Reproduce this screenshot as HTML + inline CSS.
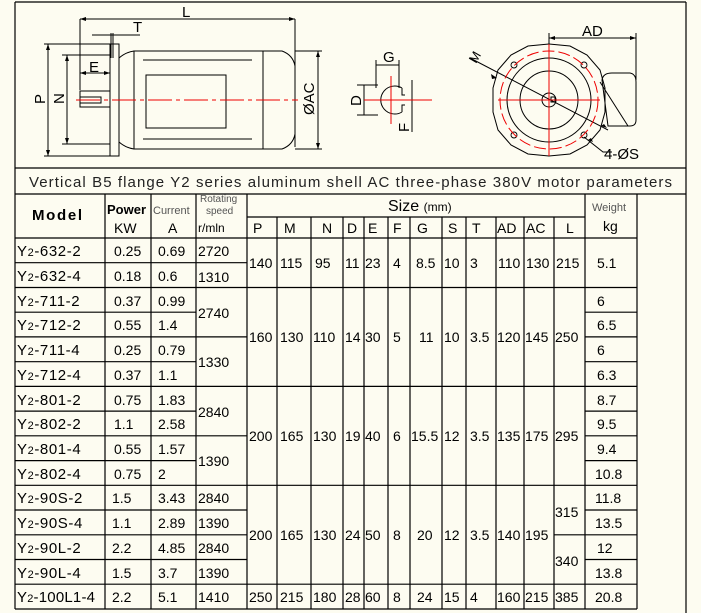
<!DOCTYPE html>
<html><head><meta charset="utf-8"><style>
html,body{margin:0;padding:0;background:#fdfcf1;}
svg{display:block;font-family:"Liberation Sans",sans-serif;}
</style></head><body>
<svg width="701" height="613" viewBox="0 0 701 613" xmlns="http://www.w3.org/2000/svg">
<rect width="701" height="613" fill="#fdfcf1"/>
<g stroke="#000" stroke-width="1.2" fill="none">
<line x1="15" y1="2" x2="686" y2="2"/>
<line x1="15" y1="2" x2="15" y2="609"/>
<line x1="686" y1="2" x2="686" y2="613"/>
<line x1="15" y1="168" x2="686" y2="168"/>
<line x1="15" y1="194" x2="686" y2="194"/>
<path d="M105 194V609M151 194V609M196 194V609M247 194V609M585 194V609M637 194V609"/>
<path d="M277 217V609M311 217V609M343 217V609M364 217V609M388 217V609M410 217V609M442 217V609M466 217V609M496 217V609M524 217V609M554 217V609"/>
<line x1="247" y1="217" x2="585" y2="217"/>
<path d="M15 238H637M15 287.5H637M15 386.4H637M15 485.3H637M15 584.2H637M15 609H637"/>
<path d="M15 262.7H196M15 312.2H196M15 336.9H196M15 361.7H196M15 411.1H196M15 435.8H196M15 460.6H196M15 510H196M15 534.8H196M15 559.5H196"/>
<path d="M196 262.7H247M196 336.9H247M196 435.8H247M196 510H247M196 534.8H247M196 559.5H247"/>
<path d="M554 534.8H585"/>
<path d="M585 312.2H637M585 336.9H637M585 361.7H637M585 411.1H637M585 435.8H637M585 460.6H637M585 510H637M585 534.8H637M585 559.5H637"/>
</g>

<g stroke="#000" stroke-width="1" fill="none">
<path d="M80 19H295M80 19V90M295 19V147"/>
<path d="M92 35H140M111 33V58M113 33V58"/>
<rect x="110" y="44" width="9" height="112"/>
<path d="M48 44V156M44 44H110M44 156H110"/>
<path d="M67 55V144M62 55H110M62 144H110"/>
<path d="M80 73H110"/>
<rect x="80" y="91" width="30" height="16"/>
<path d="M80 97H101V103H80"/>
<rect x="134" y="51" width="129" height="98"/>
<path d="M119 58Q126 52 134 51M119 142Q126 148 134 149"/>
<path d="M263 51H282Q293 55 295 66V134Q293 145 282 149H263"/>
<rect x="146" y="75" width="80" height="53"/>
<path d="M143 60H252M143 139H252"/>
<path d="M295 51H322M295 149H322M318 51V149"/>
<path d="M376 60V88M399 60V88M376 65H399"/>
<path d="M402 88A14 14 0 1 0 402 112M402 88V95H405M402 112V105H405"/>
<path d="M357 85H378M357 115H378M364 85V115"/>
<path d="M412 80V132"/>
<polygon points="549,44 570,46 587,55 600,70 605,88 605,112 600,130 587,145 570,154 549,156 528,154 511,145 498,130 493,112 493,88 498,70 511,55 528,46"/>
<circle cx="549" cy="100" r="42"/>
<circle cx="549" cy="100" r="29"/>
<circle cx="549" cy="100" r="7"/>
<rect x="551" y="97" width="4" height="5"/>
<path d="M549 38H636M549 33V60M636 33V80"/>
<path d="M602 80Q603 73 612 73H630Q636 74 636 82V120Q636 126 630 126H608Z"/>
<path d="M600 82L628 126"/>
<path d="M470 58L608 130"/>
<path d="M584 137L603 152H612"/>
<g stroke-width="0.9">
<circle cx="514" cy="65" r="3"/><circle cx="584" cy="65" r="3"/><circle cx="514" cy="135" r="3"/><circle cx="584" cy="135" r="3"/>
</g>
</g>
<g fill="#000">
<path d="M80 19l6-2v4zM295 19l-6-2v4zM48 44l-2 6h4zM48 156l-2-6h4zM67 55l-2 6h4zM67 144l-2-6h4zM318 51l-2 6h4zM318 149l-2-6h4zM80 73l6-2v4zM110 73l-6-2v4zM549 38l6-2v4zM636 38l-6-2v4zM497 78l-6-4 1 5zM601 126l6 2-3-4zM588 140l5 2-2-4z"/>
</g>
<g stroke="#e00" stroke-width="1" fill="none">
<line x1="76" y1="100" x2="298" y2="100" stroke-dasharray="24,4,4,4"/>
<path d="M364 100H432M391 76V124"/>
<path d="M498 100H600M549 44V156"/>
<circle cx="549" cy="100" r="49" stroke-dasharray="12,4"/>
</g>
<g font-size="15" fill="#000">
<text x="182" y="17">L</text>
<text x="133" y="32">T</text>
<text x="89" y="72">E</text>
<text transform="translate(45,104) rotate(-90)">P</text>
<text transform="translate(64,104) rotate(-90)">N</text>
<text transform="translate(314,115) rotate(-90)">ØAC</text>
<text x="383" y="62">G</text>
<text transform="translate(361,106) rotate(-90)">D</text>
<text transform="translate(409,132) rotate(-90)">F</text>
<text x="582" y="36">AD</text>
<text transform="translate(476,64) rotate(-60)" font-size="13">M</text>
<text x="604" y="159">4-ØS</text>
</g>

<text x="29" y="187" font-size="15" fill="#222" textLength="643" lengthAdjust="spacing">Vertical B5 flange Y2 series aluminum shell AC three-phase 380V motor parameters</text>

<g fill="#000">
<text x="32" y="220" font-size="15" font-weight="bold" textLength="50">Model</text>
<text x="107" y="214" font-size="13" font-weight="bold">Power</text>
<text x="114" y="233" font-size="14">KW</text>
<text x="153" y="214" font-size="11" fill="#555">Current</text>
<text x="168" y="233" font-size="14">A</text>
<text x="200" y="202" font-size="10" fill="#555">Rotating</text>
<text x="206" y="214" font-size="10" fill="#555">speed</text>
<text x="198" y="232" font-size="12">r/mln</text>
<text x="388" y="211" font-size="16">Size <tspan font-size="12">(mm)</tspan></text>
<text x="592" y="211" font-size="11" fill="#555">Weight</text>
<text x="603" y="231" font-size="14">kg</text>
</g>
<g font-size="14" fill="#000">
<text x="253" y="233">P</text><text x="284" y="233">M</text><text x="322" y="233">N</text><text x="347" y="233">D</text><text x="368" y="233">E</text><text x="393" y="233">F</text><text x="417" y="233">G</text><text x="448" y="233">S</text><text x="472" y="233">T</text><text x="497" y="233">AD</text><text x="526" y="233">AC</text><text x="566" y="233">L</text>
</g>

<g font-size="14" fill="#000">
<g font-size="15" letter-spacing="0.6">
<text x="17" y="256">Y<tspan font-size="11">2</tspan>-632-2</text>
<text x="17" y="281">Y<tspan font-size="11">2</tspan>-632-4</text>
<text x="17" y="306">Y<tspan font-size="11">2</tspan>-711-2</text>
<text x="17" y="330">Y<tspan font-size="11">2</tspan>-712-2</text>
<text x="17" y="355">Y<tspan font-size="11">2</tspan>-711-4</text>
<text x="17" y="380">Y<tspan font-size="11">2</tspan>-712-4</text>
<text x="17" y="405">Y<tspan font-size="11">2</tspan>-801-2</text>
<text x="17" y="429">Y<tspan font-size="11">2</tspan>-802-2</text>
<text x="17" y="454">Y<tspan font-size="11">2</tspan>-801-4</text>
<text x="17" y="479">Y<tspan font-size="11">2</tspan>-802-4</text>
<text x="17" y="503">Y<tspan font-size="11">2</tspan>-90S-2</text>
<text x="17" y="528">Y<tspan font-size="11">2</tspan>-90S-4</text>
<text x="17" y="553">Y<tspan font-size="11">2</tspan>-90L-2</text>
<text x="17" y="578">Y<tspan font-size="11">2</tspan>-90L-4</text>
<text x="17" y="602" letter-spacing="0.2">Y<tspan font-size="11">2</tspan>-100L1-4</text>
</g>
<text x="114" y="256">0.25</text><text x="114" y="281">0.18</text><text x="114" y="306">0.37</text><text x="114" y="330">0.55</text><text x="114" y="355">0.25</text><text x="114" y="380">0.37</text><text x="114" y="405">0.75</text><text x="114" y="429">1.1</text><text x="114" y="454">0.55</text><text x="114" y="479">0.75</text><text x="112" y="503">1.5</text><text x="112" y="528">1.1</text><text x="112" y="553">2.2</text><text x="112" y="578">1.5</text><text x="112" y="602">2.2</text>
<text x="158" y="256">0.69</text><text x="158" y="281">0.6</text><text x="158" y="306">0.99</text><text x="158" y="330">1.4</text><text x="158" y="355">0.79</text><text x="158" y="380">1.1</text><text x="158" y="405">1.83</text><text x="158" y="429">2.58</text><text x="158" y="454">1.57</text><text x="158" y="479">2</text><text x="158" y="503">3.43</text><text x="158" y="528">2.89</text><text x="158" y="553">4.85</text><text x="158" y="578">3.7</text><text x="158" y="602">5.1</text>
<text x="198" y="256">2720</text><text x="198" y="282">1310</text><text x="198" y="318">2740</text><text x="198" y="367">1330</text><text x="198" y="417">2840</text><text x="198" y="466">1390</text><text x="198" y="503">2840</text><text x="198" y="528">1390</text><text x="198" y="553">2840</text><text x="198" y="578">1390</text><text x="198" y="602">1410</text>
<g transform="translate(0,268)">
<text x="249" y="0">140</text><text x="280" y="0">115</text><text x="315" y="0">95</text><text x="345" y="0">11</text><text x="365" y="0">23</text><text x="393" y="0">4</text><text x="416" y="0">8.5</text><text x="444" y="0">10</text><text x="470" y="0">3</text><text x="498" y="0">110</text><text x="526" y="0">130</text><text x="556" y="0">215</text><text x="597" y="0">5.1</text>
</g>
<g transform="translate(0,342)">
<text x="249" y="0">160</text><text x="280" y="0">130</text><text x="313" y="0">110</text><text x="345" y="0">14</text><text x="365" y="0">30</text><text x="393" y="0">5</text><text x="419" y="0">11</text><text x="444" y="0">10</text><text x="470" y="0">3.5</text><text x="497" y="0">120</text><text x="525" y="0">145</text><text x="555" y="0">250</text>
</g>
<g transform="translate(0,441)">
<text x="249" y="0">200</text><text x="280" y="0">165</text><text x="313" y="0">130</text><text x="345" y="0">19</text><text x="365" y="0">40</text><text x="393" y="0">6</text><text x="411" y="0">15.5</text><text x="444" y="0">12</text><text x="470" y="0">3.5</text><text x="497" y="0">135</text><text x="525" y="0">175</text><text x="555" y="0">295</text>
</g>
<g transform="translate(0,540)">
<text x="249" y="0">200</text><text x="280" y="0">165</text><text x="313" y="0">130</text><text x="345" y="0">24</text><text x="365" y="0">50</text><text x="393" y="0">8</text><text x="417" y="0">20</text><text x="444" y="0">12</text><text x="470" y="0">3.5</text><text x="497" y="0">140</text><text x="525" y="0">195</text>
</g>
<text x="555" y="517">315</text><text x="555" y="566">340</text>
<g transform="translate(0,602)">
<text x="249" y="0">250</text><text x="280" y="0">215</text><text x="313" y="0">180</text><text x="345" y="0">28</text><text x="365" y="0">60</text><text x="393" y="0">8</text><text x="417" y="0">24</text><text x="444" y="0">15</text><text x="470" y="0">4</text><text x="497" y="0">160</text><text x="525" y="0">215</text><text x="555" y="0">385</text><text x="595" y="0">20.8</text>
</g>
<text x="597" y="306">6</text><text x="597" y="330">6.5</text><text x="597" y="355">6</text><text x="597" y="380">6.3</text><text x="597" y="405">8.7</text><text x="597" y="429">9.5</text><text x="597" y="454">9.4</text><text x="595" y="479">10.8</text><text x="595" y="503">11.8</text><text x="595" y="528">13.5</text><text x="597" y="553">12</text><text x="595" y="578">13.8</text>
</g>
</svg>
</body></html>
